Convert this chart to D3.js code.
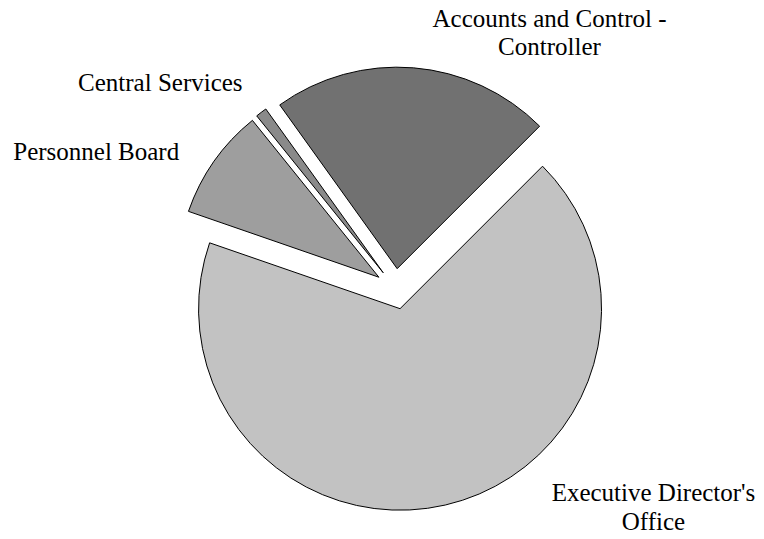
<!DOCTYPE html>
<html>
<head>
<meta charset="utf-8">
<script src="https://cdn.jsdelivr.net/npm/d3@7"></script>
<style>
  html, body { margin: 0; padding: 0; background: #ffffff; }
  svg { display: block; }
</style>
</head>
<body>
<svg id="chart" width="764" height="539"></svg>
<script>
// ---- data ----
const categories = ["Executive Director's Office", "Personnel Board", "Central Services", "Accounts and Control - Controller"];
const values = [67.8, 8.9, 0.9, 22.4];
const colors = ["#c2c2c2", "#9e9e9e", "#8a8a8a", "#717171"];
const labelLines = [["Executive Director's", "Office"], ["Personnel Board"], ["Central Services"], ["Accounts and Control -", "Controller"]];

// ---- layout ----
const W = 764, H = 539;
const cx = 395.5, cy = 288.9;
const radius = 201.5;
const explode = 20.3;
const fontSize = 25;
const lineHeight = fontSize * 1.15;
// label anchors as offsets from the pie centre (text middle, first baseline)
const labelOffsets = [[258, 212.1], [-299.3, -128.9], [-235.2, -197.9], [154, -262.2]];

const svg = d3.select("#chart");
svg.append("rect").attr("width", W).attr("height", H).attr("fill", "#ffffff");

const pie = d3.pie().sort(null)
  .startAngle(45 * Math.PI / 180)
  .endAngle(405 * Math.PI / 180);
const arcs = pie(values);
const arc = d3.arc().innerRadius(0).outerRadius(radius);

const g = svg.append("g").attr("transform", `translate(${cx},${cy})`);

g.selectAll("path.slice")
  .data(arcs)
  .join("path")
  .attr("class", "slice")
  .attr("d", arc)
  .attr("fill", (d, i) => colors[i])
  .attr("stroke", "#000")
  .attr("stroke-width", 1)
  .attr("stroke-linejoin", "miter")
  .attr("transform", d => {
    const m = (d.startAngle + d.endAngle) / 2;
    return `translate(${explode * Math.sin(m)},${-explode * Math.cos(m)})`;
  });

const labels = g.selectAll("text.label")
  .data(arcs)
  .join("text")
  .attr("class", "label")
  .attr("font-family", "'Liberation Serif', 'Times New Roman', serif")
  .attr("font-size", fontSize)
  .attr("fill", "#000")
  .attr("text-anchor", "middle");

labels.each(function(d, i) {
  const t = d3.select(this);
  const [ox, oy] = labelOffsets[i];
  labelLines[i].forEach((ln, j) => {
    t.append("tspan").attr("x", ox).attr("y", oy + j * lineHeight).text(ln);
  });
});
</script>
</body>
</html>
